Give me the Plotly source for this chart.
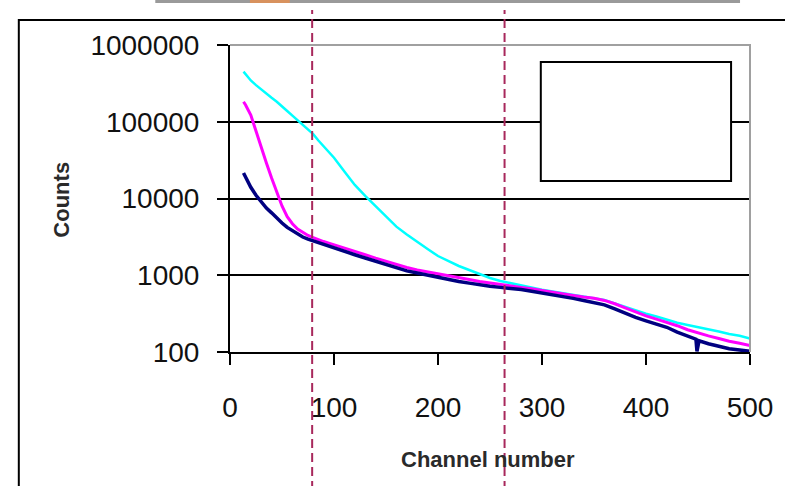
import plotly.graph_objects as go

# ---- data ----
channels = [13, 15, 20, 25, 30, 35, 40, 45, 50, 55, 60, 65, 70, 75, 80, 85, 90, 95, 100,
            110, 120, 130, 140, 150, 160, 170, 180, 190, 200,
            210, 220, 230, 240, 250, 260, 270, 280, 290, 300,
            310, 320, 330, 340, 350, 360, 370, 380, 390, 400,
            410, 420, 430, 440, 448, 449, 451, 460, 470, 480, 490, 500]

cyan_counts = [450000, 415000, 345000, 300000, 262000, 230000, 205000, 182000, 160000, 138000,
               120000, 104000, 90000, 79000, 69000, 57000, 48000, 40000, 34000,
               22500, 15000, 10800, 7900, 5800, 4300, 3400, 2700, 2200, 1780,
               1520, 1320, 1170, 1030, 920, 840, 785, 735, 690, 650,
               615, 585, 555, 530, 505, 475, 430, 385, 345, 315,
               290, 262, 240, 225, 214, 213, 212, 198, 185, 172, 163, 150]

magenta_counts = [182000, 165000, 122000, 74000, 46000, 29000, 18500, 11800, 8000, 5800,
                  4700, 4000, 3600, 3300, 3100, 2900, 2750, 2620, 2500,
                  2250, 2050, 1850, 1670, 1510, 1380, 1260, 1170, 1100, 1040,
                  980, 930, 880, 830, 790, 755, 725, 695, 665, 630,
                  600, 570, 545, 520, 500, 470, 425, 375, 330, 295,
                  268, 245, 220, 195, 180, 178, 177, 162, 150, 138, 130, 121]

navy_counts = [21500, 19000, 14000, 11000, 9000, 7500, 6500, 5500, 4800, 4200,
               3800, 3400, 3150, 2950, 2800, 2620, 2480, 2350, 2220,
               2000, 1850, 1680, 1520, 1370, 1250, 1140, 1070, 1000, 930,
               880, 830, 790, 750, 720, 695, 675, 650, 620, 590,
               560, 530, 500, 470, 445, 412, 365, 320, 282, 255,
               232, 210, 182, 160, 147, 102, 140, 128, 118, 110, 106, 102]

marker_channels = [79, 264]

y_tickvals = [100, 1000, 10000, 100000, 1000000]
y_ticktext = ["100", "1000", "10000", "100000", "1000000"]
x_tickvals = [0, 100, 200, 300, 400, 500]
x_ticktext = ["0", "100", "200", "300", "400", "500"]

x_title = "Channel number"
y_title = "Counts"

# ---- figure ----
W, H = 785, 486
L, R, T, B = 230, 33, 45, 134
pw, ph = W - L - R, H - T - B


def px(xp):
    return (xp - L) / pw


def py(yp):
    return (H - B - yp) / ph


fig = go.Figure()
fig.add_trace(go.Scatter(x=channels, y=cyan_counts, mode="lines",
                         line=dict(color="#00FFFF", width=2.5), showlegend=False))
fig.add_trace(go.Scatter(x=channels, y=magenta_counts, mode="lines",
                         line=dict(color="#FF00FF", width=3), showlegend=False))
fig.add_trace(go.Scatter(x=channels, y=navy_counts, mode="lines",
                         line=dict(color="#000080", width=3.5), showlegend=False))

shapes = []
# outer frame (top and left edges)
shapes.append(dict(type="path", xref="paper", yref="paper",
                   path=f"M {px(18)} {py(490)} L {px(18)} {py(20)} L {px(790)} {py(20)}",
                   line=dict(color="black", width=2)))
# top image strip
shapes.append(dict(type="rect", xref="paper", yref="paper",
                   x0=px(155), x1=px(742), y0=py(3), y1=py(-2),
                   fillcolor="#9a9a9a", line=dict(width=0)))
shapes.append(dict(type="rect", xref="paper", yref="paper",
                   x0=px(250), x1=px(290), y0=py(3), y1=py(-2),
                   fillcolor="#d8925e", line=dict(width=0)))
# grey top and right plot border
shapes.append(dict(type="path", xref="paper", yref="paper",
                   path="M 0 1 L 1 1 L 1 0",
                   line=dict(color="#a0a0a0", width=2), layer="above"))
# empty legend box
shapes.append(dict(type="rect", xref="paper", yref="paper",
                   x0=px(542), x1=px(733), y0=py(181), y1=py(62),
                   fillcolor="white", line=dict(color="black", width=2), layer="above"))
# dashed channel markers
for c in marker_channels:
    shapes.append(dict(type="line", xref="x", yref="paper",
                       x0=c, x1=c, y0=py(490), y1=py(10),
                       line=dict(color="#A8285C", width=2, dash="9px,5px"),
                       layer="above"))

fig.update_layout(
    width=W, height=H,
    margin=dict(l=L, r=R, t=T, b=B),
    paper_bgcolor="white", plot_bgcolor="white",
    font=dict(family="Liberation Sans, Arial, sans-serif", color="black"),
    shapes=shapes,
    annotations=[
        dict(text=f"<b>{x_title}</b>", xref="paper", yref="paper",
             x=px(489), y=py(459), showarrow=False,
             font=dict(size=22, color="#2a2a2a"), xanchor="center", yanchor="middle"),
        dict(text=f"<b>{y_title}</b>", xref="paper", yref="paper",
             x=px(60), y=py(200), showarrow=False, textangle=-90,
             font=dict(size=22, color="#2a2a2a"), xanchor="center", yanchor="middle"),
    ],
)

fig.update_xaxes(range=[0, 500], tickvals=x_tickvals, ticktext=x_ticktext,
                 showgrid=False, zeroline=False, showline=True,
                 linecolor="black", linewidth=2, ticks="outside", ticklen=11,
                 tickwidth=2, tickcolor="black", ticklabelstandoff=18,
                 tickfont=dict(size=28, color="#111111"))
fig.update_yaxes(type="log", range=[2, 6], tickvals=y_tickvals, ticktext=y_ticktext,
                 showgrid=True, gridcolor="black", gridwidth=2, zeroline=False,
                 showline=True, linecolor="black", linewidth=2, ticks="outside",
                 ticklen=11, tickwidth=2, tickcolor="black", ticklabelstandoff=12,
                 tickfont=dict(size=28, color="#111111"))

fig.write_html("out.html", config={"displayModeBar": False},
               post_script="document.body.style.margin='0';document.body.style.overflow='hidden';")
